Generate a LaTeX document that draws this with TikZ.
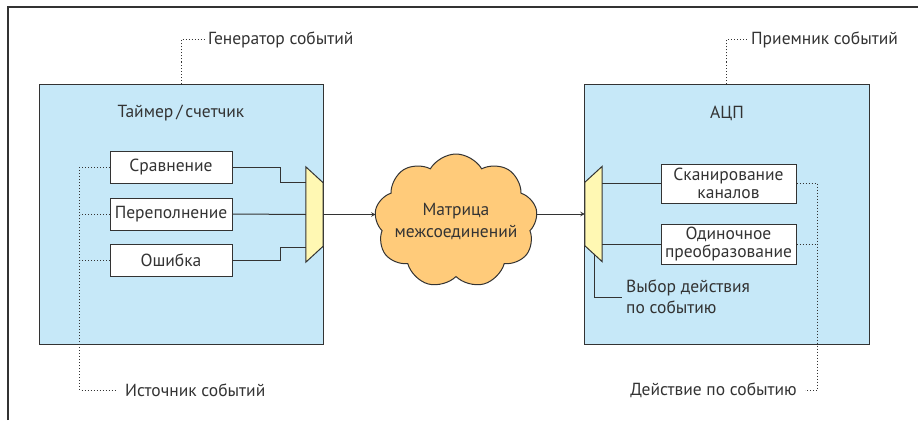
\documentclass[tikz,border=0pt]{standalone}
\usepackage{fontspec}
\setmainfont{PT Sans}
\usetikzlibrary{shapes.geometric, shapes.symbols, arrows}
\definecolor{unitblue}{HTML}{C6E8F8}
\definecolor{muxyellow}{HTML}{FFF8B3}
\definecolor{cloudorange}{HTML}{FFCB7A}
\definecolor{linegray}{HTML}{333333}
\tikzstyle{unit} = [rectangle, draw=linegray, line width=1pt, fill=unitblue, inner sep=0pt]
\tikzstyle{func} = [rectangle, draw=linegray, line width=1pt, fill=white, text centered, align=center, inner sep=1pt]
\tikzstyle{muxframe} = [rectangle, minimum width=17pt, minimum height=95pt, inner sep=0pt]
\tikzstyle{muxbody} = [draw=linegray, line width=1pt, fill=muxyellow]
\tikzstyle{matrixcloud} = [cloud, cloud puffs=9, cloud puff arc=120, aspect=1.2, minimum width=163pt, minimum height=134pt, inner sep=-14pt, draw=linegray, line width=1pt, fill=cloudorange, align=center]
\tikzstyle{link} = [draw=linegray, line width=1pt]
\tikzstyle{note} = [draw=linegray, line width=1pt, dotted]
\tikzstyle{arrow} = [link,->,>=stealth]
\begin{document}
\begin{tikzpicture}[x=1pt, y=-1pt, font=\fontsize{17.5}{18}\selectfont, text=linegray]
                 \useasboundingbox (0,0) rectangle (920,420);
                 \draw [line width=1.2pt, draw=linegray] (8,420) -- (8,7) -- (918,7);
                 % blocks
                 \node [unit, minimum width=284pt, minimum height=260pt] at (181,214) (timer) {};
                 \node [unit, minimum width=285pt, minimum height=260pt] at (726.5,214) (adc) {};
                 \node at (181,113) (timername) {Таймер\,/\,счетчик};
                 \node at (727,113) (adcname) {АЦП};
                 \node [func, minimum width=122pt, minimum height=32pt] at (171,167) (cmp) {Сравнение};
                 \node [func, minimum width=122pt, minimum height=32pt] at (171,214) (ovf) {Переполнение};
                 \node [func, minimum width=122pt, minimum height=32pt] at (171,260) (err) {Ошибка};
                 \node [func, minimum width=135pt, minimum height=39pt] at (728.5,183.5) (scan) {Сканирование\\каналов};
                 \node [func, minimum width=135pt, minimum height=40pt] at (728.5,244) (single) {Одиночное\\преобразование};
                 \node [muxframe] at (314.5,214.5) (muxL) {};
                 \node [muxframe] at (593.5,214) (muxR) {};
                 \draw [muxbody] (muxL.north west) -- ([yshift=-16pt]muxL.north east) -- ([yshift=16pt]muxL.south east) -- (muxL.south west) -- cycle;
                 \draw [muxbody] (muxR.north east) -- ([yshift=-16pt]muxR.north west) -- ([yshift=16pt]muxR.south west) -- (muxR.south east) -- cycle;
                 \node [matrixcloud] at (456,221) (matrix) {Матрица\\[4pt]межсоединений};
                 % labels
                 \node [anchor=west, inner sep=3pt] at (205,40) (genlabel) {Генератор событий};
                 \node [anchor=west, inner sep=3pt] at (748,40) (reclabel) {Приемник событий};
                 \node [anchor=west, inner sep=8pt] at (117,390) (srclabel) {Источник событий};
                 \node [anchor=east, inner sep=8pt] at (805,390) (actlabel) {Действие по событию};
                 \node [anchor=west, align=left, inner sep=4pt] at (622,297) (sellabel) {Выбор действия\\[3pt]по событию};
                 % links
                 \draw [link] (cmp.east) -- ++(48,0) |- ([yshift=32pt]muxL.west);
                 \draw [link] (ovf.east) -- (muxL.west);
                 \draw [link] (err.east) -- ++(48,0) |- ([yshift=-33pt]muxL.west);
                 \draw [arrow] (muxL.east) -- (matrix.west |- muxL.east);
                 \draw [arrow] (matrix.east |- muxR.west) -- (muxR.west);
                 \draw [link] (scan.west) -- (scan.west -| muxR.east);
                 \draw [link] (single.west) -- (single.west -| muxR.east);
                 \draw [link] ([xshift=1pt,yshift=8pt]muxR.south) |- (sellabel.west);
                 % notes
                 \draw [note] (timer.north) |- (genlabel.west);
                 \draw [note] (adc.north) |- (reclabel.west);
                 \draw [note] (cmp.west) -- ++(-30,0) |- (srclabel.west);
                 \draw [note] (ovf.west) -- ++(-30,0);
                 \draw [note] (err.west) -- ++(-30,0);
                 \draw [note] (scan.east) -- ++(21,0) |- (actlabel.east);
                 \draw [note] (single.east) -- ++(21,0);
                 \end{tikzpicture}
\end{document}
